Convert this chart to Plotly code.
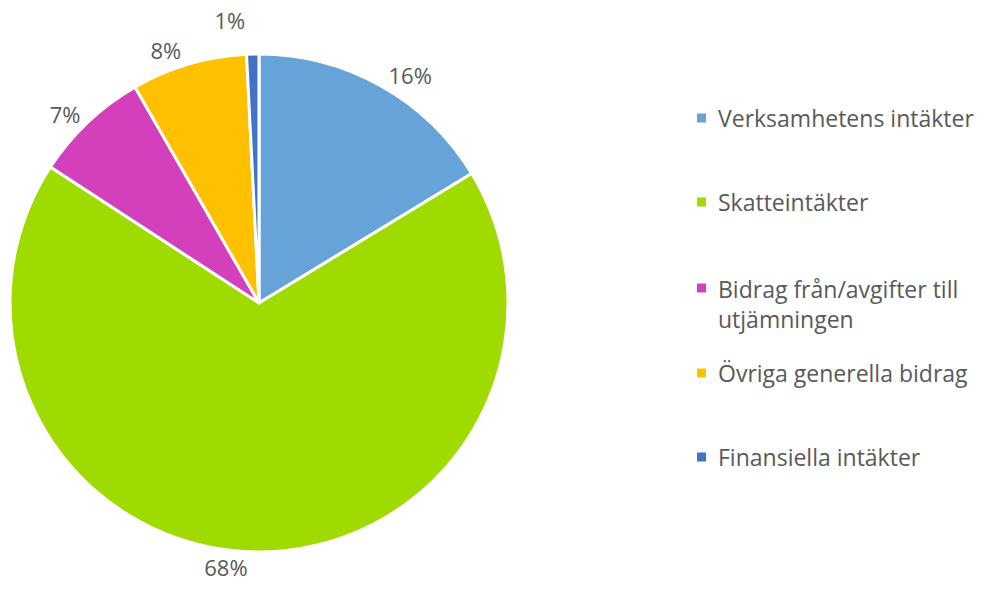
import plotly.graph_objects as go

labels = ["Verksamhetens intäkter", "Skatteintäkter", "Bidrag från/avgifter till<br>utjämningen",
          "Övriga generella bidrag", "Finansiella intäkter"]
values = [16.3, 67.9, 7.5, 7.5, 0.8]
pct_text = ["16%", "68%", "7%", "8%", "1%"]
colors = ["#65A3D8", "#9FDB00", "#D43FBC", "#FFC000", "#4472C4"]

FONT = "'Open Sans', Lato, sans-serif"
TXT = "#595959"

fig = go.Figure(go.Pie(
    labels=labels, values=values, text=pct_text, textinfo="text",
    textposition="outside", sort=False, direction="clockwise", rotation=0,
    marker=dict(colors=colors, line=dict(color="white", width=3)),
    textfont=dict(family=FONT, size=22, color=TXT),
    domain=dict(x=[10/990, 508/990], y=[1-552/597, 1-54/597]),
    showlegend=False,
))

# manual legend (layout only)
legend_y = [118, 202, 288, 373, 457]
annotations = []
shapes = []
for lab, col, yc in zip(labels, colors, legend_y):
    yp = 1 - yc/597
    multi = "<br>" in lab
    shapes.append(dict(type="rect", xref="paper", yref="paper",
                       x0=697/990, x1=706/990, y0=yp-4.5/597, y1=yp+4.5/597,
                       fillcolor=col, line=dict(width=0)))
    annotations.append(dict(xref="paper", yref="paper", x=716/990, y=yp,
                            xanchor="left", yanchor="top" if multi else "middle",
                            yshift=17 if multi else 0,
                            text=lab, showarrow=False, align="left",
                            font=dict(family=FONT, size=23, color=TXT)))

fig.update_layout(width=990, height=597, margin=dict(l=0, r=0, t=0, b=0),
                  paper_bgcolor="white", plot_bgcolor="white",
                  annotations=annotations, shapes=shapes)
fig.write_html("out.html", config={"displayModeBar": False},
               post_script="document.body.style.margin='0';"
                           "document.querySelectorAll('path.textline').forEach(function(e){e.remove();});")
